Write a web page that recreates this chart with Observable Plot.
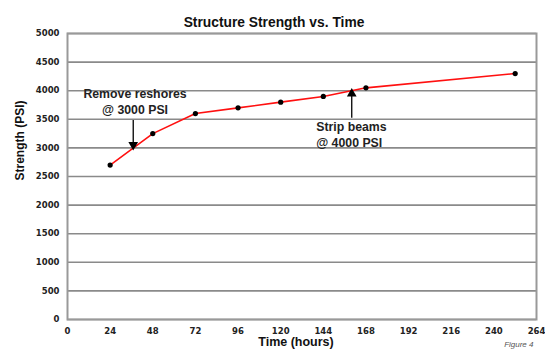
<!DOCTYPE html>
<html>
<head>
<meta charset="utf-8">
<script src="https://cdn.jsdelivr.net/npm/d3@7"></script>
<script src="https://cdn.jsdelivr.net/npm/@observablehq/plot@0.6"></script>
<style>
  html, body { margin: 0; padding: 0; background: #fff; }
</style>
</head>
<body>
<div id="chart"></div>
<script>
// Concrete strength over time
const hours = [24, 48, 72, 96, 120, 144, 168, 252];
const strength = [2700, 3250, 3600, 3700, 3800, 3900, 4050, 4300];

// Axis ticks
const xTicks = [0, 24, 48, 72, 96, 120, 144, 168, 192, 216, 240, 264];
const yTicks = [0, 500, 1000, 1500, 2000, 2500, 3000, 3500, 4000, 4500, 5000];

// Construction milestones
const noteLabels = ["Remove reshores\n@ 3000 PSI", "Strip beams\n@ 4000 PSI"];
const noteHours = [37, 160];
const noteStrength = [3000, 4000];
const noteTail = [3480, 3520];
const noteTextX = [38, 140];
const noteTextY = [3590, 3500];
const noteDir = ["down", "up"];

const points = hours.map((h, i) => ({hours: h, strength: strength[i]}));
const notes = noteLabels.map((label, i) => ({
  label, x: noteHours[i], y: noteStrength[i], tail: noteTail[i],
  tx: noteTextX[i], ty: noteTextY[i], dir: noteDir[i]
}));
const downNotes = notes.filter(d => d.dir === "down");
const upNotes = notes.filter(d => d.dir === "up");

const font = "'Liberation Sans', Arial, sans-serif";
const tickFont = "'DejaVu Sans', sans-serif";

const chart = Plot.plot({
  width: 545,
  height: 351,
  marginLeft: 67,
  marginRight: 9,
  marginTop: 33,
  marginBottom: 32,
  style: {fontFamily: font, background: "#fff", color: "#111"},
  x: {domain: [0, 264], ticks: xTicks, label: null},
  y: {domain: [0, 5000], ticks: yTicks, label: null},
  marks: [
    Plot.gridY(yTicks, {stroke: "#8a8a8a", strokeOpacity: 1, strokeWidth: 1.6}),
    Plot.frame({stroke: "#999", strokeWidth: 2}),
    Plot.axisY({ticks: yTicks, tickSize: 0, tickPadding: 8, tickFormat: "d", fontSize: 8.5, fontWeight: "bold", fontFamily: tickFont, fill: "#222", label: null}),
    Plot.axisX({ticks: xTicks, tickSize: 0, tickPadding: 8, tickFormat: "d", fontSize: 8.5, fontWeight: "bold", fontFamily: tickFont, fill: "#222", label: null}),
    Plot.line(points, {x: "hours", y: "strength", stroke: "#ff1010", strokeWidth: 1.6}),
    Plot.dot(points, {x: "hours", y: "strength", r: 2.6, fill: "#000", stroke: "none"}),
    // arrow shafts with filled triangular heads
    Plot.ruleX(notes, {x: "x", y1: "tail", y2: "y", stroke: "#000", strokeWidth: 1.3}),
    Plot.dot(downNotes, {x: "x", y: "y", symbol: "triangle", rotate: 180, r: 3.6, dy: -3, fill: "#000", stroke: "none"}),
    Plot.dot(upNotes, {x: "x", y: "y", symbol: "triangle", r: 3.6, dy: 3, fill: "#000", stroke: "none"}),
    Plot.text(downNotes, {x: "tx", y: "ty", text: "label", textAnchor: "middle", lineAnchor: "bottom", lineHeight: 1.3, fontSize: 12.3, fontWeight: "bold", fill: "#222"}),
    Plot.text(upNotes, {x: "tx", y: "ty", text: "label", textAnchor: "start", lineAnchor: "top", lineHeight: 1.3, fontSize: 12.3, fontWeight: "bold", fill: "#222"}),
    Plot.text(["Structure Strength vs. Time"], {frameAnchor: "top", dx: -28, dy: -16, fontSize: 13.8, fontWeight: "bold", fill: "#111"}),
    Plot.text(["Time (hours)"], {frameAnchor: "bottom", dx: -6, dy: 26, fontSize: 12.5, fontWeight: "bold", fill: "#111"}),
    Plot.text(["Strength (PSI)"], {frameAnchor: "left", rotate: -90, dx: -47, dy: 4, fontSize: 12, fontWeight: "bold", fill: "#111"}),
    Plot.text(["Figure 4"], {frameAnchor: "bottom-right", textAnchor: "end", dx: -3, dy: 27, fontSize: 8, fontStyle: "italic", fill: "#555"})
  ]
});

document.getElementById("chart").appendChild(chart);
</script>
</body>
</html>
